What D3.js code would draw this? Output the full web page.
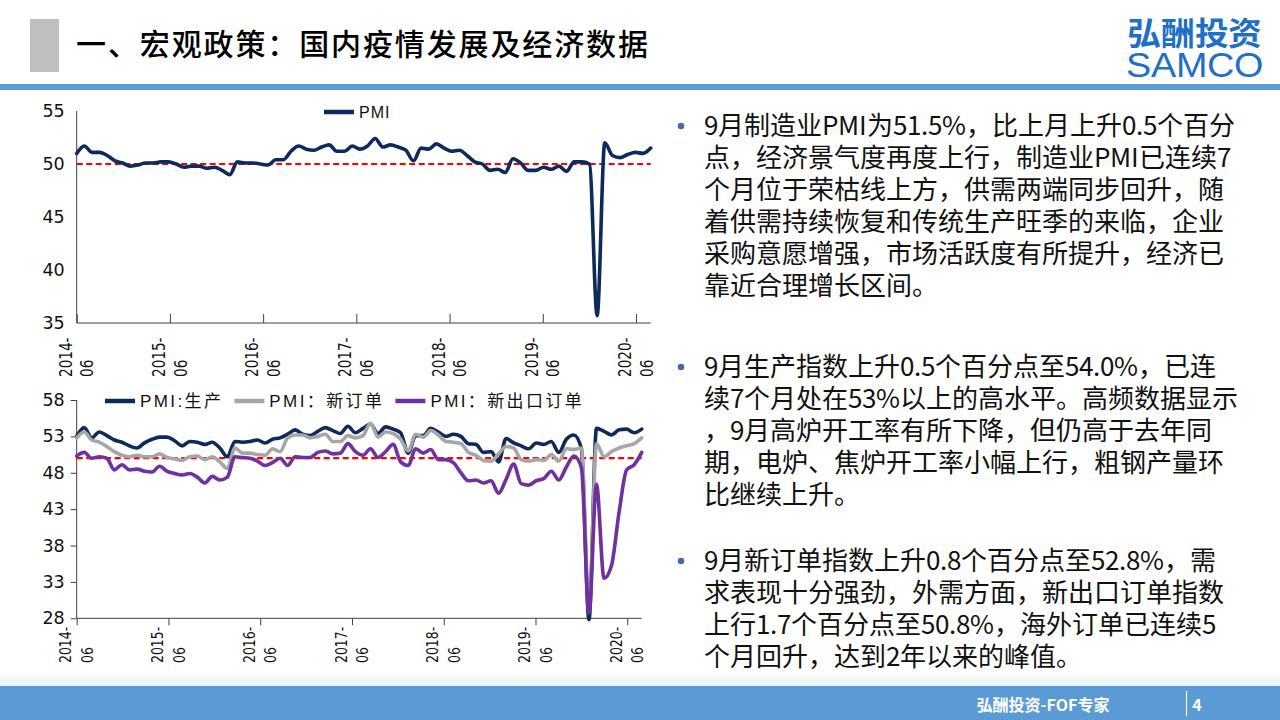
<!DOCTYPE html>
<html>
<head>
<meta charset="utf-8">
<script src="https://cdn.jsdelivr.net/npm/d3@7"></script>
<style>
  /* same installed faces, with tighter line metrics so stacked lines don't collide */
  @font-face {
    font-family: "TightCJK";
    src: local("Noto Sans CJK SC"), local("Noto Sans CJK SC Regular"), local("NotoSansCJKsc-Regular"), local("NotoSansCJKSC-Regular");
    font-weight: 400;
    ascent-override: 88%; descent-override: 12%; line-gap-override: 0%;
  }
  @font-face {
    font-family: "TightCJK";
    src: local("Noto Sans CJK SC Bold"), local("NotoSansCJKsc-Bold"), local("NotoSansCJKSC-Bold");
    font-weight: 700;
    ascent-override: 88%; descent-override: 12%; line-gap-override: 0%;
  }
  @font-face {
    font-family: "TightSans";
    src: local("Liberation Sans"), local("Liberation Sans Regular"), local("LiberationSans");
    ascent-override: 76%; descent-override: 4%; line-gap-override: 0%;
  }
  html, body { margin: 0; padding: 0; background: #fff; }
  svg { display: block; }
</style>
</head>
<body>
<div id="slide"></div>
<script>
// ---- data (monthly, 2014-06 .. 2020-09) ----
const tickYears = ['2014', '2015', '2016', '2017', '2018', '2019', '2020'];
const tickMonth = '06';
// label spacing on the x axis, in data points
const TICK_STEP = 12.18;

const pmi = [
  51.0, 51.7, 51.1, 51.1, 50.8, 50.3, 50.1,
  49.8, 49.9, 50.1, 50.1, 50.2, 50.2, 50.0, 49.7, 49.8, 49.8, 49.6, 49.7,
  49.4, 49.0, 50.2, 50.1, 50.1, 50.0, 49.9, 50.4, 50.4, 51.2, 51.7, 51.4,
  51.3, 51.6, 51.8, 51.2, 51.2, 51.7, 51.4, 51.7, 52.4, 51.6, 51.8, 51.6,
  51.3, 50.3, 51.5, 51.4, 51.9, 51.5, 51.2, 51.3, 50.8, 50.2, 50.0, 49.4,
  49.5, 49.2, 50.5, 50.1, 49.4, 49.4, 49.7, 49.5, 49.8, 49.3, 50.2, 50.2,
  50.0, 35.7, 52.0, 50.8, 50.6, 50.9, 51.1, 51.0, 51.5
];

const production = [
  53.0, 54.2, 52.8, 53.6, 53.1, 52.5, 52.2,
  51.7, 51.4, 52.1, 52.6, 52.9, 52.9, 52.4, 51.7, 52.3, 52.2, 51.9, 52.2,
  51.4, 50.2, 52.3, 52.2, 52.3, 52.5, 52.1, 52.6, 52.8, 53.3, 53.9, 53.3,
  53.1, 53.7, 54.2, 53.8, 53.4, 54.4, 53.5, 54.1, 54.7, 53.4, 54.3, 54.0,
  53.5, 50.7, 53.1, 53.1, 54.1, 53.6, 53.0, 53.3, 53.0, 52.0, 51.9, 50.8,
  50.9, 49.5, 52.7, 52.1, 51.7, 51.3, 52.1, 51.9, 52.3, 50.8, 52.6, 53.2,
  51.3, 27.8, 54.1, 53.7, 53.2, 53.9, 54.0, 53.5, 54.0
];

const newOrders = [
  52.8, 53.6, 52.5, 52.2, 51.6, 50.9, 50.4,
  50.2, 50.4, 50.2, 50.2, 50.6, 50.1, 49.9, 49.7, 50.2, 50.3, 49.8, 50.2,
  49.5, 48.6, 51.4, 50.7, 50.7, 50.5, 50.4, 51.3, 50.9, 52.8, 53.2, 53.2,
  52.8, 53.0, 53.3, 52.3, 52.3, 53.1, 52.8, 53.1, 54.8, 52.9, 53.6, 53.4,
  52.6, 51.0, 53.3, 52.9, 53.8, 53.2, 52.3, 52.2, 52.0, 50.8, 50.4, 49.7,
  49.6, 50.6, 51.6, 51.4, 49.8, 49.6, 49.8, 49.7, 50.5, 49.6, 51.3, 51.2,
  51.4, 29.3, 52.0, 50.2, 50.9, 51.4, 51.7, 52.0, 52.8
];

const exportOrders = [
  50.3, 50.8, 50.0, 50.2, 50.0, 48.4, 49.1,
  48.4, 48.5, 48.2, 48.1, 48.9, 48.2, 47.9, 47.7, 47.9, 47.4, 46.6, 47.5,
  47.0, 47.4, 50.2, 50.1, 50.0, 49.6, 49.0, 49.4, 50.0, 49.0, 50.2, 50.1,
  50.1, 50.8, 51.0, 50.6, 50.7, 52.0, 50.9, 50.4, 51.3, 50.1, 50.9, 51.9,
  49.5, 49.0, 51.3, 50.7, 51.2, 49.8, 49.8, 49.4, 48.0, 46.9, 47.0, 46.6,
  46.9, 45.2, 47.1, 49.2, 46.5, 46.3, 46.9, 47.2, 48.2, 47.0, 48.8, 50.3,
  48.7, 28.7, 46.4, 33.5, 35.3, 42.6, 48.4, 49.1, 50.8
];

const pmiTicks = [35, 40, 45, 50, 55];
const subTicks = [28, 33, 38, 43, 48, 53, 58];
const BOOM_LINE = 50;

const bullets = [
  ['9月制造业PMI为51.5%，比上月上升0.5个百分',
   '点，经济景气度再度上行，制造业PMI已连续7',
   '个月位于荣枯线上方，供需两端同步回升，随',
   '着供需持续恢复和传统生产旺季的来临，企业',
   '采购意愿增强，市场活跃度有所提升，经济已',
   '靠近合理增长区间。'],
  ['9月生产指数上升0.5个百分点至54.0%，已连',
   '续7个月处在53%以上的高水平。高频数据显示',
   '，9月高炉开工率有所下降，但仍高于去年同',
   '期，电炉、焦炉开工率小幅上行，粗钢产量环',
   '比继续上升。'],
  ['9月新订单指数上升0.8个百分点至52.8%，需',
   '求表现十分强劲，外需方面，新出口订单指数',
   '上行1.7个百分点至50.8%，海外订单已连续5',
   '个月回升，达到2年以来的峰值。']
];

const NAVY = '#0e2a5c';
const GREY = '#a6a6a6';
const PURPLE = '#7030a0';
const SLIDE_BLUE = '#5b9bd5';
const CJK = '"Noto Sans CJK SC", "Noto Sans", sans-serif';
const TIGHT_CJK = '"TightCJK", "Noto Sans CJK SC", sans-serif';
const LATIN_CJK = '"Liberation Sans", "Noto Sans CJK SC", sans-serif';
const AXIS_FONT = '"DejaVu Sans", Verdana, sans-serif';

const svg = d3.select('#slide').append('svg')
  .attr('width', 1280)
  .attr('height', 720);

function render() {
  // ---- header ----
  svg.append('rect').attr('x', 30).attr('y', 19).attr('width', 29).attr('height', 53).attr('fill', '#bfbfbf');
  svg.append('text')
    .attr('x', 76).attr('y', 42)
    .attr('dominant-baseline', 'central')
    .attr('textLength', 572).attr('lengthAdjust', 'spacing')
    .style('font-family', CJK).style('font-size', '30px').style('font-weight', 500)
    .attr('fill', '#000')
    .text('一、宏观政策：国内疫情发展及经济数据');

  svg.append('text')
    .attr('x', 1127).attr('y', 45)
    .attr('textLength', 135).attr('lengthAdjust', 'spacingAndGlyphs')
    .style('font-family', TIGHT_CJK).style('font-size', '32px').style('font-weight', 700)
    .attr('fill', '#1f6fc5')
    .text('弘酬投资');
  svg.append('text')
    .attr('x', 1126).attr('y', 77)
    .attr('textLength', 137).attr('lengthAdjust', 'spacingAndGlyphs')
    .style('font-family', '"TightSans", "Liberation Sans", Arial, sans-serif').style('font-size', '35px')
    .attr('fill', '#1f6fc5')
    .text('SAMCO');

  svg.append('rect').attr('x', 0).attr('y', 84).attr('width', 1280).attr('height', 6).attr('fill', SLIDE_BLUE);

  // ---- footer ----
  svg.append('rect').attr('x', 0).attr('y', 677).attr('width', 1280).attr('height', 9).attr('fill', '#eef9fc');
  svg.append('rect').attr('x', 0).attr('y', 686).attr('width', 1280).attr('height', 34).attr('fill', SLIDE_BLUE);
  svg.append('text')
    .attr('x', 1043).attr('y', 704)
    .attr('text-anchor', 'middle').attr('dominant-baseline', 'central')
    .style('font-family', CJK).style('font-size', '16px').style('font-weight', 700)
    .attr('fill', '#fff')
    .text('弘酬投资-FOF专家');
  svg.append('line')
    .attr('x1', 1186.5).attr('x2', 1186.5).attr('y1', 691).attr('y2', 716)
    .attr('stroke', '#fff').attr('stroke-width', 1.2);
  svg.append('text')
    .attr('x', 1197).attr('y', 704)
    .attr('text-anchor', 'middle').attr('dominant-baseline', 'central')
    .style('font-family', CJK).style('font-size', '16px').style('font-weight', 700)
    .attr('fill', '#fff')
    .text('4');

  drawChart({
    left: 76.7, right: 650.7, top: 111, bottom: 323,
    yDomain: [35, 55], yTicks: pmiTicks, yTickSize: 0, yTickPad: 12,
    xTickSize: -9, labelBottom: 377, labelFont: 17, labelScale: 0.8,
    legendX: 324, legendY: 112, legendFont: 16, legendSpacing: 1,
    series: [{ name: 'PMI', values: pmi, color: NAVY }]
  });

  drawChart({
    left: 76.7, right: 641.7, top: 400, bottom: 618.3,
    yDomain: [28, 58], yTicks: subTicks, yTickSize: 6, yTickPad: 6,
    xTickSize: 7, labelBottom: 663, labelFont: 16, labelScale: 0.78,
    legendX: 105, legendY: 401, legendFont: 17, legendSpacing: 2.4,
    series: [
      { name: 'PMI:生产', values: production, color: NAVY },
      { name: 'PMI：新订单', values: newOrders, color: GREY },
      { name: 'PMI：新出口订单', values: exportOrders, color: PURPLE }
    ]
  });

  // ---- commentary ----
  const starts = [126, 367, 561];
  const LINE_H = 32;
  bullets.forEach((lines, b) => {
    svg.append('circle')
      .attr('cx', 681).attr('cy', starts[b]).attr('r', 3.3)
      .attr('fill', '#4a68a8');
    const t = svg.append('text')
      .style('font-family', TIGHT_CJK)
      .style('font-size', '26px')
      .attr('fill', '#111');
    lines.forEach((ln, i) => {
      t.append('tspan')
        .attr('x', 704).attr('y', starts[b] + i * LINE_H + 9)
        .text(ln);
    });
  });
}

function drawChart(cfg) {
  const g = svg.append('g');
  const n = cfg.series[0].values.length;

  const x = d3.scaleLinear().domain([0, n - 1]).range([cfg.left, cfg.right]);
  const y = d3.scaleLinear().domain(cfg.yDomain).range([cfg.bottom, cfg.top]);

  // y axis
  const yAxis = g.append('g')
    .attr('transform', `translate(${cfg.left},0)`)
    .call(d3.axisLeft(y).tickValues(cfg.yTicks).tickSize(cfg.yTickSize).tickPadding(cfg.yTickPad));
  yAxis.select('.domain').attr('d', `M0,${cfg.top}V${cfg.bottom}`).attr('stroke', '#404040');
  yAxis.selectAll('.tick line').attr('stroke', '#404040');
  yAxis.selectAll('.tick text')
    .style('font-family', AXIS_FONT)
    .style('font-size', '17.5px')
    .attr('fill', '#111');

  // x axis: ticks only, labels drawn below as rotated two-line blocks
  const tickVals = tickYears.map((d, i) => i * TICK_STEP);
  const xAxis = g.append('g')
    .attr('transform', `translate(0,${cfg.bottom})`)
    .call(d3.axisBottom(x).tickValues(tickVals).tickSize(cfg.xTickSize).tickFormat(''));
  xAxis.select('.domain').attr('d', `M${cfg.left},0H${cfg.right}`).attr('stroke', '#404040');
  xAxis.selectAll('.tick line').attr('stroke', '#404040');

  const fs = cfg.labelFont;
  tickYears.forEach((yr, i) => {
    const cx = x(i * TICK_STEP);
    const bx = cx - 11 + fs * 0.36;
    const t = g.append('text')
      .attr('transform', `translate(${bx},${cfg.labelBottom}) rotate(-90) scale(${cfg.labelScale},1)`)
      .attr('text-anchor', 'start')
      .style('font-family', AXIS_FONT)
      .style('font-size', fs + 'px')
      .attr('fill', '#111');
    t.append('tspan').attr('x', 0).attr('y', 0).text(yr + '-');
    t.append('tspan').attr('x', 0).attr('y', 21.5).text(tickMonth);
  });

  // 50 reference line
  g.append('line')
    .attr('x1', cfg.left).attr('x2', cfg.right)
    .attr('y1', y(BOOM_LINE)).attr('y2', y(BOOM_LINE))
    .attr('stroke', '#ff0000').attr('stroke-width', 2.2)
    .attr('stroke-dasharray', '6,3.5');

  const line = d3.line()
    .x((d, i) => x(i))
    .y(d => y(d))
    .curve(d3.curveMonotoneX);

  cfg.series.forEach(s => {
    g.append('path')
      .datum(s.values)
      .attr('d', line)
      .attr('fill', 'none')
      .attr('stroke', s.color)
      .attr('stroke-width', 3.6)
      .attr('stroke-linejoin', 'round')
      .attr('stroke-linecap', 'round');
  });

  // legend
  let lx = cfg.legendX;
  cfg.series.forEach(s => {
    g.append('line')
      .attr('x1', lx).attr('x2', lx + 30)
      .attr('y1', cfg.legendY).attr('y2', cfg.legendY)
      .attr('stroke', s.color).attr('stroke-width', 4.5);
    const t = g.append('text')
      .attr('x', lx + 35).attr('y', cfg.legendY)
      .attr('dominant-baseline', 'central')
      .style('font-family', LATIN_CJK)
      .style('font-size', cfg.legendFont + 'px')
      .style('letter-spacing', cfg.legendSpacing + 'px')
      .attr('fill', '#111')
      .text(s.name);
    lx += 35 + t.node().getComputedTextLength() + 11;
  });
}

// wait for the local faces so text widths are measured with them
const faces = ['400 26px TightCJK', '700 32px TightCJK', '35px TightSans'];
Promise.all(faces.map(f => document.fonts.load(f).catch(() => null)))
  .then(render, render);
</script>
</body>
</html>
